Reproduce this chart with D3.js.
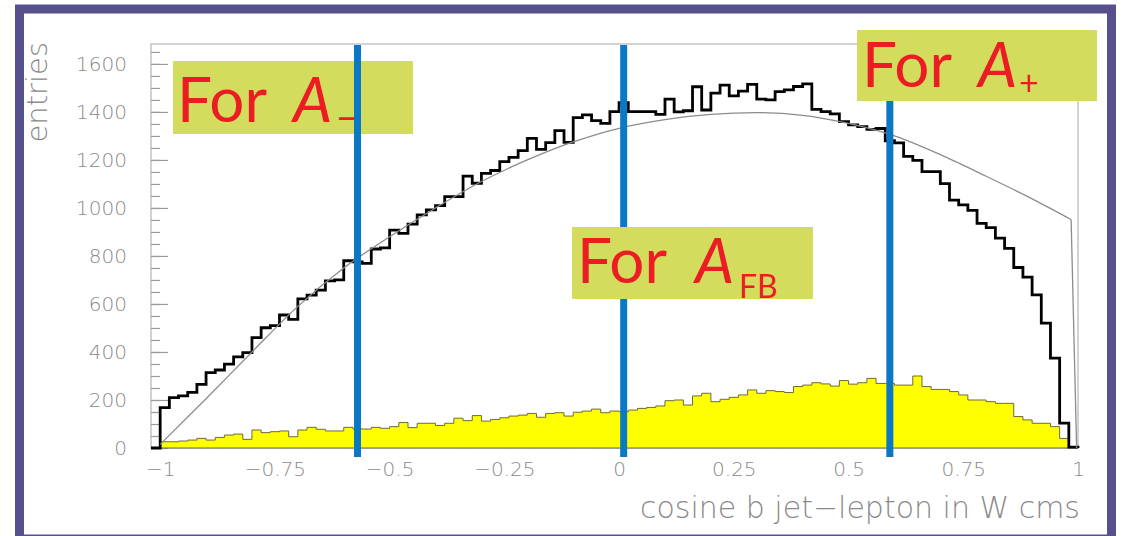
<!DOCTYPE html>
<html>
<head>
<meta charset="utf-8">
<script src="https://cdn.jsdelivr.net/npm/d3@7"></script>
<style>
body { margin: 0; background: #fff; }
svg { display: block; }
</style>
</head>
<body>
<svg id="chart" width="1122" height="536"></svg>
<script>
// histogram binning: 100 bins from -1 to 1
var binLo = -1
var binWidth = 0.02

// all events (black histogram)
var allEntries = [
	168, 210, 217, 232, 265, 314, 325, 349, 380, 397,
	460, 501, 510, 554, 536, 621, 637, 658, 696, 700,
	780, 775, 769, 829, 834, 908, 894, 933, 971, 992,
	1010, 1047, 1047, 1133, 1103, 1144, 1156, 1193, 1211, 1239,
	1290, 1244, 1272, 1322, 1273, 1376, 1388, 1364, 1352, 1401,
	1439, 1401, 1401, 1401, 1390, 1453, 1400, 1405, 1505, 1408,
	1478, 1512, 1467, 1487, 1515, 1453, 1450, 1485, 1492, 1506,
	1517, 1411, 1401, 1392, 1360, 1346, 1339, 1327, 1331, 1280,
	1271, 1215, 1198, 1151, 1151, 1101, 1033, 1013, 990, 936,
	918, 874, 832, 752, 712, 638, 520, 374, 104, 4
]

// selected events (yellow histogram)
var selEntries = [
	26, 26, 29, 33, 40, 33, 44, 54, 58, 36,
	75, 64, 68, 71, 47, 75, 86, 78, 71, 71,
	86, 80, 79, 86, 82, 89, 106, 85, 103, 103,
	94, 103, 124, 114, 135, 112, 119, 126, 133, 137,
	144, 128, 144, 147, 133, 149, 154, 162, 147, 154,
	151, 158, 165, 169, 175, 197, 200, 179, 217, 228,
	193, 203, 211, 221, 242, 228, 239, 235, 231, 256,
	262, 272, 267, 258, 281, 266, 272, 290, 269, 269,
	262, 262, 300, 256, 244, 244, 235, 221, 200, 200,
	193, 186, 186, 131, 117, 103, 103, 89, 40, 3
]

// smooth reference curve (grey)
var curveX = [-1.0, -0.9, -0.8, -0.7, -0.6, -0.5, -0.4, -0.3, -0.2, -0.1, 0.0,
	0.1, 0.2, 0.3, 0.4, 0.5, 0.6, 0.7, 0.8, 0.9, 0.985]
var curveY = [15, 205, 400, 590, 750, 880, 1000, 1110, 1200, 1275, 1332,
	1368, 1390, 1397, 1386, 1352, 1300, 1222, 1132, 1038, 952]
// the curve's end drop
var curveEndX = 0.997
var curveEndY = 0

var xTicks = [-1, -0.75, -0.5, -0.25, 0, 0.25, 0.5, 0.75, 1]
var xTickLabels = ['\u22121', '\u22120.75', '\u22120.5', '\u22120.25', '0', '0.25', '0.5', '0.75', '1']
var yTicks = [0, 200, 400, 600, 800, 1000, 1200, 1400, 1600]

// cut positions (blue lines)
var cuts = [-0.57, 0.01, 0.59]

var boxSubs = ['\u2212', 'FB', '+']

var xTitle = 'cosine b jet\u2212lepton in W cms'
var yTitle = 'entries'


var svg = d3.select('#chart')

var plot = {left: 151, right: 1078, top: 44, bottom: 448}

var x = d3.scaleLinear().domain([-1.02, 1.0]).range([plot.left, plot.right])
var y = d3.scaleLinear().domain([0, 1683]).range([plot.bottom, plot.top])

var axisFont = 'DejaVu Sans'
var grey = '#8a8a8a'

// purple slide frame
svg.append('rect')
	.attr('x', 19.5).attr('y', 9)
	.attr('width', 1092).attr('height', 530)
	.attr('fill', 'none')
	.attr('stroke', '#57508f')
	.attr('stroke-width', 9)

// plot frame
svg.append('rect')
	.attr('x', plot.left).attr('y', plot.top)
	.attr('width', plot.right - plot.left).attr('height', plot.bottom - plot.top)
	.attr('fill', 'none')
	.attr('stroke', '#b4b4b4')
	.attr('stroke-width', 1.2)

// y axis: minor ticks, major ticks, labels
var yMinor = svg.append('g')
	.attr('transform', 'translate(' + plot.left + ',0)')
	.call(d3.axisLeft(y).tickValues(d3.range(0, 1700, 50)).tickSize(-9).tickFormat(''))
var yMajor = svg.append('g')
	.attr('transform', 'translate(' + plot.left + ',0)')
	.call(d3.axisLeft(y).tickValues(yTicks).tickSize(-17).tickPadding(24).tickFormat(d3.format('d')))

svg.selectAll('.domain').remove()
svg.selectAll('.tick line').attr('stroke', '#9a9a9a').attr('stroke-width', 1.2)
yMajor.selectAll('text')
	.attr('fill', grey)
	.style('font-family', axisFont)
	.style('font-weight', 200)
	.style('font-size', '20px')

// x axis labels
var xAxis = svg.append('g')
	.attr('transform', 'translate(0,' + plot.bottom + ')')
	.call(d3.axisBottom(x).tickValues(xTicks).tickSize(0).tickPadding(14)
		.tickFormat(function(d, i) { return xTickLabels[i] }))
xAxis.select('.domain').remove()
xAxis.selectAll('text')
	.attr('fill', grey)
	.style('font-family', axisFont)
	.style('font-weight', 200)
	.style('font-size', '20px')

// axis titles
svg.append('text')
	.attr('transform', 'translate(1080,518)')
	.attr('text-anchor', 'end')
	.attr('fill', grey)
	.style('font-family', axisFont)
	.style('font-weight', 200)
	.style('font-size', '30px')
	.text(xTitle)

svg.append('text')
	.attr('transform', 'translate(47,42)rotate(-90)')
	.attr('text-anchor', 'end')
	.attr('fill', grey)
	.style('font-family', axisFont)
	.style('font-weight', 200)
	.style('font-size', '29px')
	.text(yTitle)

// histogram points for step drawing
var stepPoints = function(vals)
{
	var pts = [[-1.02, 0], [binLo, 0]]
	for (var i = 0; i < vals.length; i++) {
		pts.push([binLo + i * binWidth, vals[i]])
	}
	pts.push([binLo + vals.length * binWidth, vals[vals.length - 1]])
	pts.push([binLo + vals.length * binWidth, 0])
	return pts
}

var selArea = d3.area()
	.curve(d3.curveStepAfter)
	.x(function(d) { return x(d[0]) })
	.y0(y(0))
	.y1(function(d) { return y(d[1]) })

var stepLine = d3.line()
	.curve(d3.curveStepAfter)
	.x(function(d) { return x(d[0]) })
	.y(function(d) { return y(d[1]) })

svg.append('path')
	.datum(stepPoints(selEntries).slice(1))
	.attr('d', selArea)
	.attr('fill', '#ffff00')
	.attr('stroke', '#6b6b3a')
	.attr('stroke-width', 1)

svg.append('path')
	.datum(stepPoints(allEntries))
	.attr('d', stepLine)
	.attr('fill', 'none')
	.attr('stroke', '#000')
	.attr('stroke-width', 2.8)

var fitPts = curveX.map(function(d, i) { return [d, curveY[i]] })
var fitLine = d3.line()
	.x(function(d) { return x(d[0]) })
	.y(function(d) { return y(d[1]) })

svg.append('path')
	.datum(fitPts)
	.attr('d', fitLine.curve(d3.curveMonotoneX))
	.attr('fill', 'none')
	.attr('stroke', '#8c8c8c')
	.attr('stroke-width', 1.3)

svg.append('path')
	.datum([fitPts[fitPts.length - 1], [curveEndX, curveEndY]])
	.attr('d', fitLine.curve(d3.curveLinear))
	.attr('fill', 'none')
	.attr('stroke', '#8c8c8c')
	.attr('stroke-width', 1.3)

// annotation boxes
var boxFill = '#d4dc5e'
var red = '#ec1c24'
var boxFont = 'Lato'

var drawBox = function(bx, by, bw, bh, tx, ty, ax, sub, subSize, subX, subDy)
{
	var g = svg.append('g')
	g.append('rect')
		.attr('x', bx).attr('y', by)
		.attr('width', bw).attr('height', bh)
		.attr('fill', boxFill)
	var t = g.append('text')
		.attr('x', tx).attr('y', ty)
		.attr('fill', red)
		.style('font-family', boxFont)
		.style('font-size', '62px')
	t.append('tspan').text('For')
	t.append('tspan').attr('x', ax).style('font-style', 'italic').text('A')
	t.append('tspan').attr('x', subX).attr('dy', subDy)
		.style('font-size', subSize + 'px').text(sub)
	return g
}

drawBox(173, 61, 240, 73, 177, 122, 293, boxSubs[0], 40, 336, 10)

// blue cut lines
svg.selectAll('.cut')
	.data(cuts)
	.enter().append('line')
		.attr('class', 'cut')
		.attr('x1', function(d) { return x(d) })
		.attr('x2', function(d) { return x(d) })
		.attr('y1', 45)
		.attr('y2', 457)
		.attr('stroke', '#0a78c4')
		.attr('stroke-width', 7)

drawBox(572, 227, 241, 72, 577, 283, 695, boxSubs[1], 32, 739, 15)
drawBox(857, 30, 240, 71, 862, 87, 978, boxSubs[2], 34, 1019, 8)
</script>
</body>
</html>
